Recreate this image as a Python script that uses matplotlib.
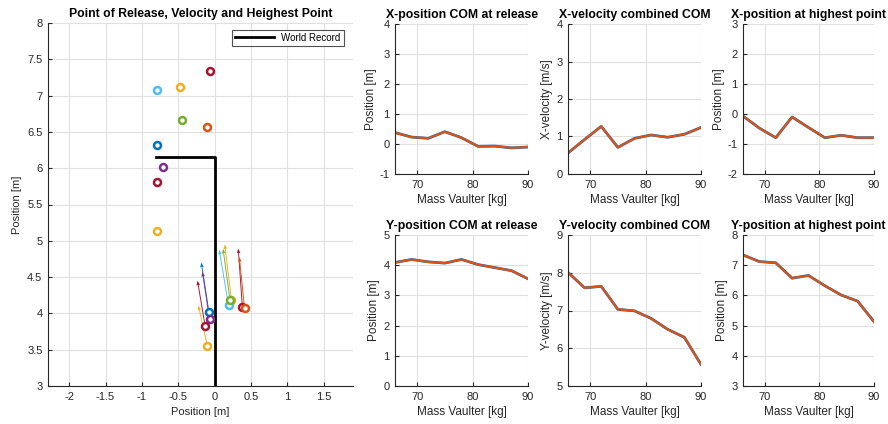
import numpy as np
import matplotlib
matplotlib.use('Agg')
import matplotlib.pyplot as plt

plt.rcParams['font.family'] = ['Liberation Sans', 'DejaVu Sans']
plt.rcParams['axes.unicode_minus'] = False

# data
mass = [66, 69, 72, 75, 78, 81, 84, 87, 90]
x_release = [0.38, 0.23, 0.19, 0.41, 0.21, -0.08, -0.07, -0.13, -0.10]
y_release = [4.09, 4.19, 4.11, 4.07, 4.19, 4.02, 3.92, 3.82, 3.55]
x_vel = [0.56, 0.92, 1.27, 0.71, 0.95, 1.04, 0.98, 1.06, 1.24]
y_vel = [8.01, 7.60, 7.64, 7.03, 6.99, 6.79, 6.50, 6.29, 5.57]
x_high = [-0.07, -0.47, -0.79, -0.10, -0.45, -0.79, -0.71, -0.79, -0.79]
y_high = [7.34, 7.12, 7.08, 6.57, 6.66, 6.32, 6.01, 5.81, 5.13]

wr_x = [-0.8, 0.0, 0.0]
wr_y = [6.16, 6.16, 3.0]

# MATLAB default colours, in the order they appear per vaulter mass
blue = (0, 0.447, 0.741)
orange = (0.85, 0.325, 0.098)
yellow = (0.929, 0.694, 0.125)
purple = (0.494, 0.184, 0.556)
green = (0.466, 0.674, 0.188)
lblue = (0.301, 0.745, 0.933)
dred = (0.635, 0.078, 0.184)
colors = [dred, yellow, lblue, orange, green, blue, purple, dred, yellow]

axgray = (0.15, 0.15, 0.15)


def style(ax):
    for s in ['top', 'right']:
        ax.spines[s].set_visible(False)
    for s in ['left', 'bottom']:
        ax.spines[s].set_color(axgray)
        ax.spines[s].set_linewidth(0.8)
    ax.tick_params(direction='in', length=3, width=0.8, labelsize=8,
                   colors=axgray, pad=4)
    ax.grid(True, color=(0.88, 0.88, 0.88), linewidth=0.8)
    ax.set_axisbelow(True)


W, H = 888, 424
fig = plt.figure(figsize=(W / 100, H / 100), dpi=100)

# left: release points, velocity arrows and highest points
ax = fig.add_axes([48 / W, (H - 386) / H, (353 - 48) / W, (386 - 23) / H])
style(ax)
ax.plot(wr_x, wr_y, color='k', linewidth=2, label='World Record')
for i in range(len(mass)):
    c = colors[i]
    ax.quiver(x_release[i], y_release[i], -x_vel[i] * 0.1, y_vel[i] * 0.1,
              angles='xy', scale_units='xy', scale=1, color=c,
              width=0.003, headwidth=4, headlength=5, headaxislength=4.5)
    ax.plot(x_release[i], y_release[i], 'o', mfc='white', mec=c, mew=1.8, ms=5)
    ax.plot(x_high[i], y_high[i], 'o', mfc='white', mec=c, mew=1.8, ms=5)
ax.set_xlim(-2.29, 1.9)
ax.set_ylim(3, 8)
ax.set_xticks(np.arange(-2, 1.6, 0.5))
ax.set_xticklabels(['-2', '-1.5', '-1', '-0.5', '0', '0.5', '1', '1.5'])
ax.set_yticks(np.arange(3, 8.1, 0.5))
ax.set_yticklabels(['3', '3.5', '4', '4.5', '5', '5.5', '6', '6.5', '7', '7.5', '8'])
ax.set_xlabel('Position [m]', fontsize=8, color=axgray)
ax.set_ylabel('Position [m]', fontsize=8, color=axgray)
ax.set_title('Point of Release, Velocity and Heighest Point', fontsize=8.8,
             fontweight='bold', pad=4)
leg = ax.legend(loc='upper right', fontsize=7, frameon=True, fancybox=False,
                handlelength=4, borderpad=0.3, bbox_to_anchor=(0.985, 0.995))
leg.get_frame().set_edgecolor(axgray)
leg.get_frame().set_linewidth(0.8)

# right: six small line plots
cols = [(395, 528), (568, 701), (743, 874)]
rows = [(24, 174), (235, 386)]
panels = [
    ('X-position COM at release', x_release, 'Position [m]', (-1, 4)),
    ('X-velocity combined COM', x_vel, 'X-velocity [m/s]', (0, 4)),
    ('X-position at highest point', x_high, 'Position [m]', (-2, 3)),
    ('Y-position COM at release', y_release, 'Position [m]', (0, 5)),
    ('Y-velocity combined COM', y_vel, 'Y-velocity [m/s]', (5, 9)),
    ('Y-position at highest point', y_high, 'Position [m]', (3, 8)),
]
for k, (title, vals, ylab, ylim) in enumerate(panels):
    r, cidx = divmod(k, 3)
    x0, x1 = cols[cidx]
    y0, y1 = rows[r]
    a = fig.add_axes([x0 / W, (H - y1) / H, (x1 - x0) / W, (y1 - y0) / H])
    style(a)
    a.plot(mass, vals, color=blue, linewidth=2)
    a.plot(mass, vals, color=orange, linewidth=1.6)
    a.set_xlim(66, 90)
    a.set_ylim(*ylim)
    a.set_xticks([70, 80, 90])
    a.set_yticks(np.arange(ylim[0], ylim[1] + 1))
    a.set_xlabel('Mass Vaulter [kg]', fontsize=8.5, color=axgray, labelpad=3)
    a.set_ylabel(ylab, fontsize=8.5, color=axgray, labelpad=2)
    a.set_title(title, fontsize=8.8, fontweight='bold', pad=4)

fig.savefig('out.png', dpi=100)
